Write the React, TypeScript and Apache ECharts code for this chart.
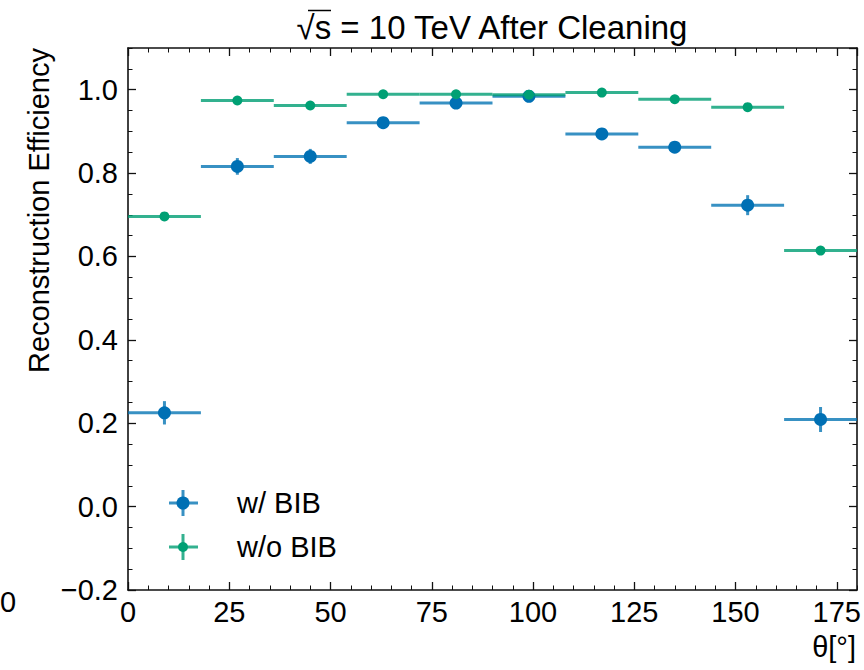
import React, { useEffect, useRef } from "react";
import * as echarts from "echarts";

const binCenters = [9, 27, 45, 63, 81, 99, 117, 135, 153, 171];
const binHalfWidth = 9;
const withBIB = [0.225, 0.816, 0.84, 0.921, 0.968, 0.984, 0.894, 0.862, 0.723, 0.209];
const withBIBErr = [0.028, 0.02, 0.018, 0.01, 0.008, 0.008, 0.01, 0.01, 0.024, 0.03];
const withoutBIB = [0.696, 0.974, 0.962, 0.989, 0.989, 0.988, 0.993, 0.977, 0.958, 0.614];
const withoutBIBErr = [0.004, 0.004, 0.004, 0.003, 0.003, 0.003, 0.003, 0.004, 0.004, 0.005];
const seriesNames = ["w/ BIB", "w/o BIB"];
const titleText = "\u221As = 10 TeV After Cleaning";
const yLabelText = "Reconstruction Efficiency";
const xLabelText = "\u03B8[\u00B0]";

const FONT = '"Liberation Sans", Arial, Helvetica, sans-serif';
const BLUE = "#0070b4";
const BLUE_LINE = "rgba(0,114,178,0.78)";
const GREEN = "#00a074";
const GREEN_LINE = "rgba(0,158,115,0.8)";
const AXIS = "#111";
const FS = 29;

function errorBarSeries(name: string, values: number[], errs: number[], color: string, z: number) {
  return {
    type: "custom",
    name,
    xAxisIndex: 0,
    yAxisIndex: 0,
    z,
    data: binCenters.map((x, i) => [x, values[i], errs[i]]),
    encode: { x: 0, y: 1 },
    renderItem: (params: any, api: any) => {
      const x = api.value(0);
      const y = api.value(1);
      const e = api.value(2);
      const l = api.coord([x - binHalfWidth, y]);
      const r = api.coord([x + binHalfWidth, y]);
      const lo = api.coord([x, y - e]);
      const hi = api.coord([x, y + e]);
      return {
        type: "group",
        children: [
          { type: "line", shape: { x1: l[0], y1: l[1], x2: r[0], y2: r[1] }, style: { stroke: color, lineWidth: 3 } },
          { type: "line", shape: { x1: lo[0], y1: lo[1], x2: hi[0], y2: hi[1] }, style: { stroke: color, lineWidth: 3 } },
        ],
      };
    },
  };
}

function markerSeries(name: string, values: number[], color: string, size: number, z: number) {
  return {
    type: "scatter",
    name,
    xAxisIndex: 0,
    yAxisIndex: 0,
    z,
    symbol: "circle",
    symbolSize: size,
    itemStyle: { color, opacity: 1 },
    data: binCenters.map((x, i) => [x, values[i]]),
  };
}

const axisLine = { show: true, onZero: false, lineStyle: { color: AXIS, width: 1.6 } };
const noLine = { show: false, onZero: false };
const majorTick = { show: true, inside: true, length: 8, lineStyle: { color: AXIS, width: 1.3 } };
const minorTick = { show: true, inside: true, length: 4.5, lineStyle: { color: AXIS, width: 1 } };

function xAx(position: string, interval: number, labels: boolean, line: boolean, tick: any) {
  return {
    type: "value",
    position,
    min: 0,
    max: 180,
    interval,
    axisLine: line ? axisLine : noLine,
    axisTick: tick,
    splitLine: { show: false },
    axisLabel: labels
      ? { show: true, fontSize: FS, fontFamily: FONT, color: "#000", margin: 7, showMaxLabel: false, formatter: (v: number) => String(Math.round(v)) }
      : { show: false },
  };
}

function yAx(position: string, interval: number, labels: boolean, line: boolean, tick: any) {
  return {
    type: "value",
    position,
    min: -0.2,
    max: 1.1,
    interval,
    axisLine: line ? axisLine : noLine,
    axisTick: tick,
    splitLine: { show: false },
    axisLabel: labels
      ? {
          show: true,
          fontSize: FS,
          fontFamily: FONT,
          color: "#000",
          margin: 10,
          showMaxLabel: false,
          formatter: (v: number) => (v < -1e-9 ? "\u2212" : "") + Math.abs(v).toFixed(1),
        }
      : { show: false },
  };
}

function legendItem(y: number, color: string, lineColor: string, r: number, label: string) {
  return [
    { type: "line", shape: { x1: 169, y1: y, x2: 198, y2: y }, style: { stroke: lineColor, lineWidth: 3 } },
    { type: "line", shape: { x1: 183, y1: y - 13, x2: 183, y2: y + 13 }, style: { stroke: lineColor, lineWidth: 3 } },
    { type: "circle", shape: { cx: 183, cy: y, r }, style: { fill: color } },
    {
      type: "text",
      x: 237,
      y,
      style: { text: label, fontSize: FS, fontFamily: FONT, fill: "#000", align: "left", verticalAlign: "middle" },
    },
  ];
}

export default function App() {
  const ref = useRef<HTMLDivElement>(null);
  useEffect(() => {
    document.body.style.margin = "0";
    if (!ref.current) return;
    const chart = echarts.init(ref.current, undefined, { renderer: "svg" });
    chart.setOption({
      animation: false,
      backgroundColor: "#fff",
      grid: { left: 128, right: 7, top: 48, bottom: 80, containLabel: false, outerBoundsMode: "none" },
      xAxis: [
        xAx("bottom", 25, true, true, majorTick),
        xAx("bottom", 5, false, false, minorTick),
        xAx("top", 25, false, true, majorTick),
        xAx("top", 5, false, false, minorTick),
      ],
      yAxis: [
        yAx("left", 0.2, true, true, majorTick),
        yAx("left", 0.05, false, false, minorTick),
        yAx("right", 0.2, false, true, majorTick),
        yAx("right", 0.05, false, false, minorTick),
      ],
      series: [
        errorBarSeries(seriesNames[0], withBIB, withBIBErr, BLUE_LINE, 2),
        markerSeries(seriesNames[0], withBIB, BLUE, 13, 3),
        errorBarSeries(seriesNames[1], withoutBIB, withoutBIBErr, GREEN_LINE, 4),
        markerSeries(seriesNames[1], withoutBIB, GREEN, 10, 5),
      ],
      graphic: [
        {
          type: "text",
          x: 492,
          y: 27,
          style: { text: titleText, fontSize: 33, fontFamily: FONT, fill: "#000", align: "center", verticalAlign: "middle" },
        },
        { type: "line", shape: { x1: 308, y1: 10.5, x2: 331, y2: 10.5 }, style: { stroke: "#000", lineWidth: 1.5 } },
        {
          type: "text",
          x: 39,
          y: 48,
          rotation: Math.PI / 2,
          style: { text: yLabelText, fontSize: FS, fontFamily: FONT, fill: "#000", align: "right", verticalAlign: "middle" },
        },
        {
          type: "text",
          x: 856,
          y: 647,
          style: { text: xLabelText, fontSize: FS, fontFamily: FONT, fill: "#000", align: "right", verticalAlign: "middle" },
        },
        {
          type: "text",
          x: 0,
          y: 602,
          style: { text: "0", fontSize: FS, fontFamily: FONT, fill: "#000", align: "left", verticalAlign: "middle" },
        },
        ...legendItem(503, BLUE, BLUE_LINE, 6.5, seriesNames[0]),
        ...legendItem(547, GREEN, GREEN_LINE, 5, seriesNames[1]),
      ],
    });
    return () => chart.dispose();
  }, []);
  return <div ref={ref} style={{ width: 864, height: 670 }} />;
}
